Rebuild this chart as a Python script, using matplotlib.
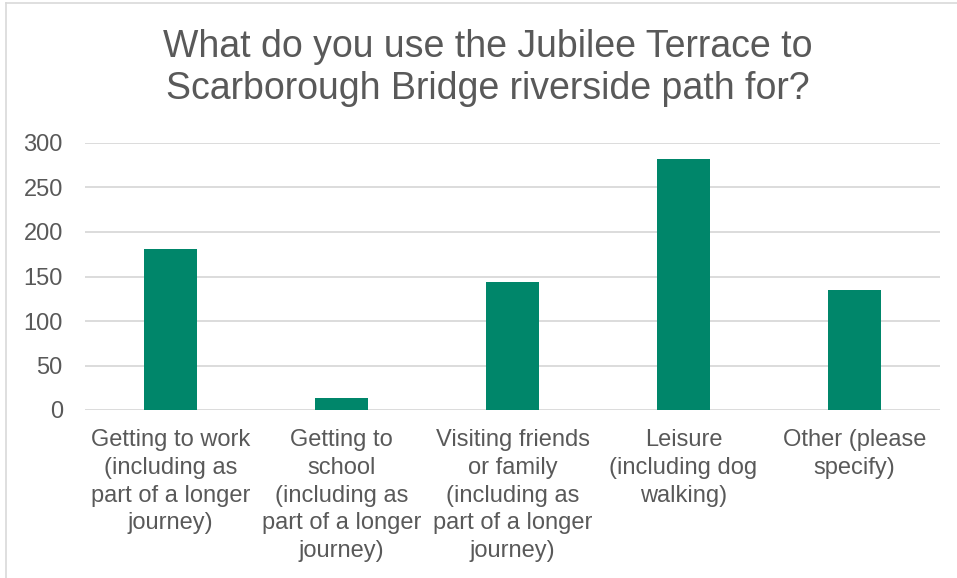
import matplotlib
matplotlib.use("Agg")
import matplotlib.pyplot as plt
from matplotlib.lines import Line2D

categories = [
    "Getting to work\n(including as\npart of a longer\njourney)",
    "Getting to\nschool\n(including as\npart of a longer\njourney)",
    "Visiting friends\nor family\n(including as\npart of a longer\njourney)",
    "Leisure\n(including dog\nwalking)",
    "Other (please\nspecify)",
]
values = [181, 13, 144, 282, 135]
yticks = [0, 50, 100, 150, 200, 250, 300]
title = "What do you use the Jubilee Terrace to\nScarborough Bridge riverside path for?"

plt.rcParams['font.family'] = ['Liberation Sans', 'DejaVu Sans']
text_color = '#595959'
bar_color = '#00866A'

fig = plt.figure(figsize=(9.57, 5.78), dpi=100)
W, H = 957, 578
ax = fig.add_axes([85 / W, 1 - 410 / H, 855 / W, 267 / H])

x = list(range(len(categories)))
ax.bar(x, values, width=0.31, color=bar_color, zorder=3)
ax.set_xlim(-0.5, len(categories) - 0.5)
ax.set_ylim(0, 300)
ax.set_yticks(yticks)
ax.set_yticklabels([str(v) for v in yticks])
ax.set_xticks(x)
ax.set_xticklabels(categories, linespacing=1.33)
ax.grid(axis='y', color='#D9D9D9', linewidth=1.3, zorder=0)
for s in ax.spines.values():
    s.set_visible(False)
ax.tick_params(axis='both', length=0, labelsize=17, colors=text_color)
ax.tick_params(axis='y', pad=16)
ax.tick_params(axis='x', pad=14)
for lbl in ax.get_xticklabels():
    lbl.set_verticalalignment('top')

fig.text(488 / W, 1 - 68 / H, title, ha='center', va='center', fontsize=27,
         color=text_color, linespacing=1.22)

# light frame on left and top edges
fig.add_artist(Line2D([5.5 / W, 5.5 / W], [0, 1 - 3 / H], transform=fig.transFigure,
                      color='#D9D9D9', linewidth=1.2))
fig.add_artist(Line2D([5.5 / W, 1], [1 - 3 / H, 1 - 3 / H], transform=fig.transFigure,
                      color='#D9D9D9', linewidth=1.2))

fig.savefig("out.png", dpi=100, facecolor='white')
